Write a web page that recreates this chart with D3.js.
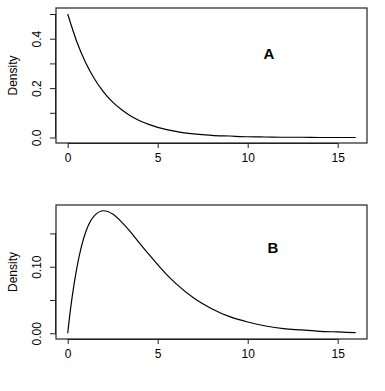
<!DOCTYPE html>
<html>
  <head>
    <meta charset="utf-8">
    <title>Density curves</title>
    <style>
      body { margin: 0; background: #fff; }
      svg { font-family: "Liberation Sans", Arial, sans-serif; display: block; }
      .axis text { font-size: 12px; fill: #000; }
      .axis path, .axis line { stroke: #222; }
      .curve { fill: none; stroke: #000; stroke-width: 1.2px; }
      .frame { fill: none; stroke: #222; stroke-width: 1.2px; }
      .panel-label { font-size: 15px; font-weight: bold; text-anchor: middle; }
      .ylab { font-size: 12px; text-anchor: middle; }
    </style>
  </head>
  <body>
    <svg width="385" height="391"></svg>

    <script src="https://d3js.org/d3.v7.min.js"></script>
    <script>
      // values
      const xA = [0, 0.5, 1, 1.5, 2, 2.5, 3, 3.5, 4, 4.5, 5, 5.5, 6, 6.5, 7, 7.5, 8, 9, 10, 11, 12, 13, 14, 15, 16];
      const densA = [0.500, 0.389, 0.303, 0.236, 0.184, 0.143, 0.112, 0.087, 0.068, 0.053, 0.041, 0.032, 0.025,
                     0.019, 0.015, 0.012, 0.009, 0.006, 0.003, 0.002, 0.001, 0.001, 0.000, 0.000, 0.000];

      const xB = [0, 0.1, 0.25, 0.5, 0.75, 1, 1.5, 2, 2.5, 3, 3.5, 4, 4.5, 5, 5.5, 6, 7, 8, 9, 10, 11, 12, 13, 14, 15, 16];
      const densB = [0.000, 0.024, 0.055, 0.097, 0.129, 0.152, 0.177, 0.184, 0.179, 0.167, 0.152, 0.135, 0.119,
                     0.103, 0.088, 0.075, 0.053, 0.037, 0.025, 0.017, 0.011, 0.007, 0.005, 0.003, 0.002, 0.001];

      const xTicks = [0, 5, 10, 15];
      const yTicksA = [0, 0.1, 0.2, 0.3, 0.4, 0.5];
      const yLabelsA = [0, 0.2, 0.4];
      const yTicksB = [0, 0.05, 0.1, 0.15];
      const yLabelsB = [0, 0.1];

      const svg = d3.select('svg');

      // x scale shared by both panels
      const x = d3.scaleLinear().domain([0, 16]).range([67.7, 355.7]);

      const panels = [
        { label: 'A', xs: xA, ys: densA, box: [8, 143], y0: 137.5, yTop: 0.5, yTopPx: 14,
          ticks: yTicksA, labels: yLabelsA, fmt: d3.format('.1f'), labPos: [269, 59] },
        { label: 'B', xs: xB, ys: densB, box: [205, 339], y0: 333.3, yTop: 0.1, yTopPx: 266.7,
          ticks: yTicksB, labels: yLabelsB, fmt: d3.format('.2f'), labPos: [273, 253] }
      ];

      const boxLeft = 56, boxRight = 367;

      panels.forEach(p => {
        const y = d3.scaleLinear().domain([0, p.yTop]).range([p.y0, p.yTopPx]);
        const g = svg.append('g');

        // plot frame
        g.append('rect')
          .attr('class', 'frame')
          .attr('x', boxLeft)
          .attr('y', p.box[0])
          .attr('width', boxRight - boxLeft)
          .attr('height', p.box[1] - p.box[0]);

        // x axis
        const xa = g.append('g')
          .attr('class', 'axis')
          .attr('transform', `translate(0,${p.box[1]})`)
          .call(d3.axisBottom(x).tickValues(xTicks).tickSize(5).tickPadding(5).tickFormat(d3.format('d')));
        xa.select('.domain').attr('d', `M${x(0)},0.5H${x(15)}`);

        // y axis, unlabelled ticks are kept like R does
        const ya = g.append('g')
          .attr('class', 'axis')
          .attr('transform', `translate(${boxLeft},0)`)
          .call(d3.axisLeft(y).tickValues(p.ticks).tickSize(6).tickPadding(0)
            .tickFormat(d => p.labels.some(v => Math.abs(v - d) < 1e-9) ? p.fmt(d) : ''));
        ya.select('.domain').attr('d', `M-0.5,${y(p.ticks[0])}V${y(p.ticks[p.ticks.length - 1])}`);
        ya.selectAll('.tick text')
          .attr('text-anchor', 'middle')
          .attr('x', 0)
          .attr('dy', 0)
          .attr('transform', 'translate(-15,0) rotate(-90)');

        // axis title
        g.append('text')
          .attr('class', 'ylab')
          .attr('transform', `translate(17,${(p.box[0] + p.box[1]) / 2}) rotate(-90)`)
          .text('Density');

        // density curve
        const line = d3.line()
          .x((d, i) => x(p.xs[i]))
          .y(d => y(d))
          .curve(d3.curveMonotoneX);
        g.append('path')
          .attr('class', 'curve')
          .attr('d', line(p.ys));

        g.append('text')
          .attr('class', 'panel-label')
          .attr('x', p.labPos[0])
          .attr('y', p.labPos[1])
          .text(p.label);
      });
    </script>
  </body>
</html>
